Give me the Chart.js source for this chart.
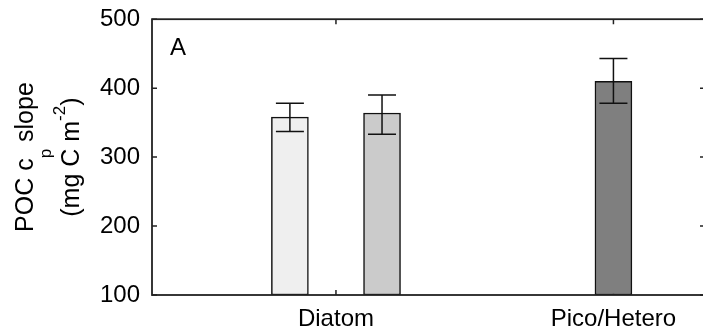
<!DOCTYPE html>
<html>
<head>
<meta charset="utf-8">
<script src="https://cdn.jsdelivr.net/npm/chart.js@4/dist/chart.umd.min.js"></script>
<style>
  html, body { margin: 0; padding: 0; overflow: hidden; background: #fff; }
  #wrap { position: absolute; left: 0; top: 0; width: 710px; height: 333px; }
</style>
</head>
<body>
<div id="wrap"><canvas id="pocChart" width="710" height="333"></canvas></div>
<script>
// values
const categories = ['Diatom', 'Pico/Hetero'];
const barCategory = [0, 0, 1];          // which category each bar belongs to
const barValues = [358, 364, 410];
const errUpper = [378, 390, 443];
const errLower = [337, 333, 378];
const yTicks = [100, 200, 300, 400, 500];
const barColors = ['#efefef', '#cbcbcb', '#7f7f7f'];

const FONT = '"Liberation Sans", Arial, sans-serif';
const groupOffset = [-0.166, 0.166, 0];
const barX = barValues.map((v, i) => barCategory[i] + 1 + groupOffset[i]);

// inward ticks, drawn under the bars
const tickPlugin = {
    id: 'inwardTicks',
    beforeDatasetsDraw(chart) {
        const { ctx, chartArea: a, scales: { x, y } } = chart;
        ctx.save();
        ctx.strokeStyle = '#222';
        ctx.lineWidth = 1.5;
        ctx.beginPath();
        yTicks.forEach(v => {
            const py = y.getPixelForValue(v);
            ctx.moveTo(a.left, py); ctx.lineTo(a.left + 5, py);
            ctx.moveTo(a.right, py); ctx.lineTo(a.right - 5, py);
        });
        categories.forEach((c, i) => {
            const px = x.getPixelForValue(i + 1);
            ctx.moveTo(px, a.bottom); ctx.lineTo(px, a.bottom - 5);
            ctx.moveTo(px, a.top); ctx.lineTo(px, a.top + 5);
        });
        ctx.stroke();
        ctx.restore();
    }
};

// axis box, error bars, panel letter and y title
const overlayPlugin = {
    id: 'overlay',
    afterDatasetsDraw(chart) {
        const { ctx, chartArea: a, scales: { x, y } } = chart;
        ctx.save();
        ctx.strokeStyle = '#222';
        ctx.lineWidth = 1.8;
        ctx.strokeRect(a.left, a.top, a.right - a.left, a.bottom - a.top);

        ctx.strokeStyle = '#111';
        ctx.lineWidth = 1.5;
        ctx.beginPath();
        barValues.forEach((v, i) => {
            const px = x.getPixelForValue(barX[i]);
            const top = y.getPixelForValue(errUpper[i]);
            const bot = y.getPixelForValue(errLower[i]);
            ctx.moveTo(px, top); ctx.lineTo(px, bot);
            ctx.moveTo(px - 14, top); ctx.lineTo(px + 14, top);
            ctx.moveTo(px - 14, bot); ctx.lineTo(px + 14, bot);
        });
        ctx.stroke();

        ctx.fillStyle = '#000';
        ctx.font = '24px ' + FONT;
        ctx.textBaseline = 'alphabetic';
        ctx.fillText('A', 170, 55);
        ctx.restore();
    },
    afterDraw(chart) {
        const { ctx, chartArea: a } = chart;
        const big = '25px ' + FONT, small = '17px ' + FONT;
        const lines = [
            { base: 33, parts: [['POC c', big, 0], ['p', small, 18], [' slope', big, 0]] },
            { base: 79, parts: [['(mg C m', big, 0], ['-2', small, -14], [')', big, 0]] }
        ];
        ctx.save();
        ctx.translate(0, (a.top + a.bottom) / 2);
        ctx.rotate(-Math.PI / 2);
        ctx.fillStyle = '#000';
        ctx.textBaseline = 'alphabetic';
        lines.forEach(line => {
            let w = 0;
            line.parts.forEach(p => { ctx.font = p[1]; w += ctx.measureText(p[0]).width; });
            let cx = -w / 2;
            line.parts.forEach(p => {
                ctx.font = p[1];
                ctx.fillText(p[0], cx, line.base + p[2]);
                cx += ctx.measureText(p[0]).width;
            });
        });
        ctx.restore();
    }
};

new Chart(document.getElementById('pocChart').getContext('2d'), {
    type: 'bar',
    data: {
        datasets: [{
            data: barValues.map((v, i) => ({ x: barX[i], y: v })),
            backgroundColor: barColors,
            borderColor: '#111',
            borderWidth: 1.5,
            borderSkipped: false,
            barThickness: 37,
            base: 100
        }]
    },
    options: {
        responsive: false,
        animation: false,
        layout: { padding: { top: 18, right: 5, left: 0, bottom: 0 } },
        plugins: { legend: { display: false }, tooltip: { enabled: false } },
        scales: {
            x: {
                type: 'linear',
                offset: false,
                min: 0.337,
                max: 2.33,
                grid: { display: false, drawTicks: false, offset: false },
                border: { display: false },
                afterBuildTicks: s => { s.ticks = categories.map((c, i) => ({ value: i + 1 })); },
                afterFit: s => { s.height = 38; },
                ticks: {
                    autoSkip: false,
                    maxRotation: 0,
                    padding: 10,
                    color: '#000',
                    font: { family: FONT, size: 24 },
                    callback: v => categories[v - 1]
                }
            },
            y: {
                min: 100,
                max: 500,
                grid: { display: false, drawTicks: false },
                border: { display: false },
                afterBuildTicks: s => { s.ticks = yTicks.map(v => ({ value: v })); },
                afterFit: s => { s.width = 152; },
                ticks: {
                    padding: 12,
                    color: '#000',
                    font: { family: FONT, size: 24, lineHeight: 0.6 }
                }
            }
        }
    },
    plugins: [tickPlugin, overlayPlugin]
});
</script>
</body>
</html>
